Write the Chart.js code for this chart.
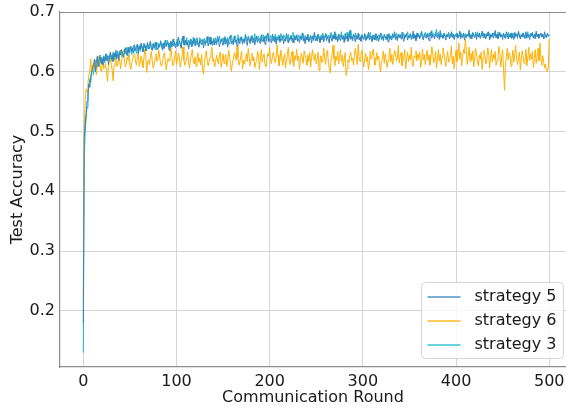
<!DOCTYPE html>
<html>
<head>
<meta charset="utf-8">
<script src="https://cdn.jsdelivr.net/npm/chart.js@4/dist/chart.umd.min.js"></script>
<style>
html,body{margin:0;padding:0;background:#fff;}
#wrap{width:566px;height:411px;position:relative;}
</style>
</head>
<body>
<div id="wrap"><canvas id="c" width="566" height="411"></canvas></div>
<script>
// ---- data ----
const rounds = Array.from({length: 501}, (_, i) => i);
const xTicks = [0, 100, 200, 300, 400, 500];
const yTicks = [0.2, 0.3, 0.4, 0.5, 0.6, 0.7];
const seriesNames = ['strategy 5', 'strategy 6', 'strategy 3'];

const strategy5 = [
0.180,0.490,0.512,0.530,0.551,0.566,0.580,0.574,0.592,0.601,
0.606,0.612,0.621,0.600,0.616,0.626,0.609,0.620,0.628,0.614,
0.622,0.611,0.625,0.618,0.630,0.619,0.627,0.612,0.624,0.633,
0.621,0.629,0.617,0.631,0.625,0.636,0.622,0.630,0.619,0.634,
0.628,0.637,0.631,0.624,0.632,0.640,0.635,0.627,0.641,0.632,
0.638,0.643,0.634,0.640,0.631,0.645,0.636,0.642,0.646,0.630,
0.644,0.637,0.648,0.642,0.633,0.641,0.646,0.635,0.643,0.649,
0.638,0.644,0.651,0.640,0.636,0.647,0.639,0.645,0.650,0.641,
0.637,0.646,0.642,0.651,0.644,0.636,0.648,0.639,0.653,0.643,
0.647,0.649,0.636,0.645,0.651,0.641,0.647,0.655,0.644,0.640,
0.650,0.642,0.658,0.652,0.646,0.639,0.652,0.660,0.648,0.644,
0.653,0.645,0.650,0.638,0.647,0.655,0.642,0.651,0.646,0.656,
0.643,0.650,0.657,0.646,0.641,0.652,0.648,0.645,0.654,0.640,
0.651,0.647,0.655,0.659,0.643,0.649,0.658,0.646,0.652,0.644,
0.656,0.645,0.651,0.648,0.659,0.653,0.642,0.647,0.655,0.649,
0.644,0.657,0.650,0.646,0.654,0.641,0.652,0.658,0.661,0.647,
0.651,0.645,0.660,0.649,0.653,0.643,0.656,0.650,0.647,0.658,
0.652,0.646,0.655,0.649,0.661,0.651,0.644,0.657,0.654,0.647,
0.659,0.652,0.648,0.656,0.645,0.653,0.660,0.649,0.655,0.651,
0.647,0.662,0.653,0.650,0.658,0.646,0.654,0.661,0.664,0.650,
0.656,0.652,0.648,0.663,0.655,0.650,0.658,0.646,0.657,0.653,
0.661,0.649,0.656,0.652,0.660,0.647,0.655,0.651,0.664,0.653,
0.648,0.657,0.654,0.661,0.650,0.656,0.648,0.659,0.653,0.662,
0.651,0.655,0.649,0.660,0.654,0.665,0.652,0.657,0.647,0.658,
0.653,0.662,0.650,0.656,0.659,0.648,0.660,0.654,0.666,0.652,
0.657,0.651,0.663,0.655,0.649,0.658,0.653,0.661,0.650,0.656,
0.664,0.652,0.659,0.654,0.648,0.662,0.656,0.651,0.660,0.655,
0.667,0.653,0.658,0.650,0.663,0.656,0.652,0.661,0.654,0.659,
0.649,0.664,0.655,0.660,0.651,0.657,0.669,0.654,0.659,0.652,
0.663,0.656,0.650,0.661,0.655,0.665,0.653,0.658,0.651,0.662,
0.657,0.654,0.663,0.652,0.659,0.656,0.666,0.653,0.660,0.655,
0.650,0.662,0.657,0.653,0.664,0.656,0.660,0.651,0.658,0.665,
0.654,0.659,0.652,0.663,0.657,0.655,0.661,0.650,0.664,0.656,
0.660,0.653,0.662,0.658,0.667,0.654,0.659,0.652,0.663,0.657,
0.661,0.655,0.666,0.656,0.651,0.662,0.658,0.664,0.653,0.660,
0.657,0.663,0.654,0.659,0.668,0.656,0.661,0.652,0.665,0.658,
0.662,0.655,0.660,0.666,0.657,0.653,0.663,0.659,0.656,0.664,
0.658,0.652,0.661,0.667,0.656,0.662,0.659,0.655,0.666,0.660,
0.657,0.663,0.654,0.669,0.658,0.661,0.656,0.664,0.659,0.653,
0.662,0.658,0.665,0.655,0.660,0.667,0.657,0.663,0.654,0.661,
0.659,0.664,0.656,0.660,0.668,0.655,0.662,0.658,0.665,0.653,
0.661,0.657,0.663,0.659,0.670,0.656,0.661,0.655,0.664,0.660,
0.657,0.666,0.654,0.662,0.658,0.665,0.656,0.661,0.668,0.657,
0.663,0.659,0.655,0.664,0.660,0.667,0.653,0.662,0.658,0.665,
0.656,0.661,0.669,0.657,0.663,0.655,0.660,0.666,0.658,0.662,
0.654,0.664,0.659,0.656,0.667,0.660,0.655,0.663,0.658,0.665,
0.657,0.661,0.654,0.666,0.659,0.663,0.656,0.668,0.660,0.655,
0.662,0.658,0.665,0.657,0.661,0.667,0.656,0.663,0.659,0.654,
0.664,0.660,0.666,0.657,0.662,0.655,0.668,0.659,0.663,0.656,
0.661,0.665,0.658,0.662,0.655,0.667,0.660,0.657,0.663,0.659,
0.661
];

const strategy6 = [
0.220,0.500,0.552,0.571,0.566,0.582,0.594,0.601,0.621,0.598,
0.612,0.604,0.610,0.617,0.595,0.608,0.622,0.626,0.611,0.601,
0.613,0.620,0.605,0.609,0.614,0.598,0.584,0.607,0.619,0.623,
0.612,0.603,0.585,0.611,0.618,0.624,0.609,0.613,0.626,0.620,
0.605,0.617,0.631,0.636,0.622,0.608,0.612,0.625,0.619,0.628,
0.610,0.604,0.615,0.621,0.627,0.630,0.618,0.611,0.624,0.633,
0.609,0.614,0.626,0.619,0.607,0.622,0.638,0.629,0.599,0.616,
0.620,0.612,0.625,0.634,0.618,0.606,0.611,0.623,0.630,0.617,
0.621,0.636,0.624,0.613,0.609,0.615,0.627,0.632,0.619,0.603,
0.615,0.622,0.618,0.629,0.640,0.626,0.610,0.614,0.623,0.635,
0.612,0.620,0.631,0.625,0.608,0.617,0.627,0.642,0.619,0.611,
0.616,0.624,0.633,0.615,0.606,0.621,0.628,0.637,0.618,0.613,
0.625,0.609,0.620,0.632,0.616,0.623,0.611,0.629,0.604,0.596,
0.614,0.627,0.635,0.619,0.610,0.618,0.624,0.631,0.641,0.617,
0.622,0.608,0.616,0.628,0.620,0.613,0.626,0.633,0.607,0.619,
0.630,0.614,0.623,0.629,0.609,0.618,0.636,0.626,0.612,0.601,
0.615,0.621,0.632,0.628,0.619,0.643,0.624,0.611,0.616,0.627,
0.634,0.605,0.620,0.613,0.622,0.630,0.617,0.639,0.626,0.610,
0.621,0.631,0.618,0.625,0.607,0.614,0.619,0.634,0.628,0.603,
0.622,0.637,0.616,0.624,0.630,0.612,0.609,0.620,0.631,0.626,
0.640,0.618,0.613,0.627,0.633,0.621,0.615,0.624,0.645,0.628,
0.610,0.619,0.636,0.625,0.611,0.622,0.630,0.606,0.617,0.629,
0.641,0.620,0.612,0.625,0.634,0.616,0.609,0.627,0.621,0.638,
0.618,0.626,0.604,0.619,0.631,0.623,0.614,0.635,0.628,0.620,
0.611,0.628,0.617,0.632,0.608,0.624,0.637,0.626,0.619,0.630,
0.613,0.622,0.633,0.602,0.618,0.627,0.615,0.620,0.640,0.624,
0.612,0.631,0.636,0.616,0.605,0.598,0.621,0.629,0.644,0.622,
0.610,0.626,0.619,0.634,0.613,0.625,0.637,0.617,0.628,0.609,
0.621,0.632,0.594,0.605,0.620,0.615,0.627,0.633,0.618,0.623,
0.611,0.630,0.639,0.626,0.612,0.646,0.624,0.617,0.629,0.636,
0.620,0.608,0.622,0.631,0.616,0.625,0.603,0.613,0.634,0.621,
0.628,0.638,0.624,0.611,0.617,0.632,0.620,0.626,0.609,0.600,
0.616,0.623,0.635,0.614,0.630,0.621,0.607,0.618,0.627,0.639,
0.616,0.629,0.612,0.624,0.636,0.631,0.618,0.622,0.644,0.615,
0.626,0.632,0.610,0.619,0.625,0.637,0.605,0.621,0.633,0.617,
0.628,0.620,0.641,0.613,0.609,0.627,0.624,0.635,0.618,0.630,
0.622,0.633,0.607,0.616,0.638,0.620,0.629,0.612,0.625,0.636,
0.619,0.628,0.611,0.623,0.642,0.630,0.615,0.620,0.634,0.606,
0.621,0.637,0.618,0.630,0.612,0.625,0.640,0.631,0.619,0.609,
0.623,0.634,0.616,0.620,0.627,0.643,0.613,0.626,0.605,0.622,
0.636,0.617,0.629,0.648,0.621,0.633,0.610,0.624,0.638,0.630,
0.655,0.637,0.612,0.626,0.641,0.617,0.631,0.620,0.635,0.608,
0.623,0.639,0.631,0.615,0.610,0.628,0.621,0.633,0.604,0.622,
0.636,0.627,0.613,0.618,0.640,0.630,0.606,0.624,0.637,0.616,
0.629,0.621,0.634,0.611,0.619,0.626,0.642,0.631,0.608,0.623,
0.637,0.604,0.569,0.611,0.625,0.639,0.620,0.632,0.627,0.609,
0.622,0.636,0.616,0.629,0.644,0.621,0.612,0.624,0.633,0.603,
0.620,0.635,0.627,0.614,0.617,0.638,0.610,0.623,0.641,0.619,
0.630,0.621,0.634,0.607,0.622,0.637,0.614,0.626,0.639,0.618,
0.648,0.624,0.611,0.627,0.617,0.606,0.613,0.603,0.600,0.607,
0.655
];

const strategy3 = [
0.130,0.455,0.498,0.521,0.540,0.558,0.577,0.588,0.583,0.599,
0.603,0.595,0.611,0.619,0.605,0.614,0.622,0.608,0.617,0.624,
0.613,0.620,0.627,0.615,0.623,0.630,0.618,0.626,0.621,0.629,
0.624,0.617,0.633,0.626,0.620,0.630,0.627,0.635,0.623,0.631,
0.636,0.625,0.633,0.628,0.638,0.630,0.641,0.634,0.626,0.639,
0.633,0.642,0.629,0.638,0.644,0.635,0.639,0.631,0.646,0.637,
0.641,0.634,0.645,0.639,0.636,0.648,0.640,0.643,0.635,0.646,
0.642,0.638,0.650,0.640,0.636,0.647,0.643,0.649,0.637,0.645,
0.648,0.640,0.644,0.652,0.641,0.647,0.639,0.650,0.645,0.642,
0.653,0.644,0.648,0.640,0.651,0.646,0.654,0.643,0.649,0.645,
0.647,0.655,0.643,0.651,0.648,0.641,0.656,0.650,0.645,0.652,
0.648,0.657,0.644,0.653,0.649,0.646,0.654,0.642,0.658,0.650,
0.655,0.646,0.652,0.649,0.643,0.657,0.651,0.654,0.647,0.653,
0.656,0.644,0.652,0.648,0.659,0.650,0.646,0.655,0.651,0.648,
0.653,0.649,0.657,0.645,0.654,0.651,0.660,0.648,0.652,0.656,
0.650,0.647,0.659,0.653,0.649,0.657,0.651,0.646,0.655,0.661,
0.652,0.648,0.656,0.660,0.650,0.654,0.662,0.649,0.656,0.653,
0.659,0.651,0.655,0.648,0.663,0.657,0.652,0.660,0.656,0.650,
0.654,0.661,0.657,0.652,0.664,0.650,0.658,0.655,0.660,0.653,
0.657,0.651,0.659,0.662,0.654,0.660,0.656,0.652,0.665,0.658,
0.655,0.661,0.657,0.652,0.660,0.654,0.663,0.650,0.659,0.656,
0.660,0.653,0.664,0.657,0.655,0.662,0.658,0.652,0.661,0.656,
0.663,0.651,0.658,0.660,0.654,0.666,0.657,0.661,0.655,0.659,
0.652,0.662,0.656,0.660,0.654,0.659,0.664,0.651,0.661,0.657,
0.655,0.663,0.658,0.653,0.661,0.656,0.660,0.652,0.664,0.658,
0.660,0.654,0.662,0.659,0.653,0.661,0.657,0.665,0.655,0.660,
0.658,0.663,0.656,0.661,0.654,0.660,0.666,0.657,0.662,0.655,
0.660,0.664,0.656,0.659,0.653,0.662,0.658,0.667,0.655,0.661,
0.657,0.652,0.661,0.666,0.658,0.663,0.656,0.670,0.660,0.655,
0.662,0.658,0.665,0.654,0.660,0.657,0.663,0.659,0.655,0.661,
0.658,0.656,0.664,0.660,0.653,0.662,0.657,0.659,0.666,0.655,
0.660,0.654,0.661,0.657,0.663,0.652,0.659,0.662,0.656,0.660,
0.664,0.657,0.655,0.661,0.659,0.653,0.663,0.658,0.662,0.654,
0.660,0.657,0.664,0.656,0.662,0.659,0.665,0.655,0.661,0.658,
0.663,0.657,0.661,0.666,0.659,0.655,0.662,0.660,0.667,0.657,
0.660,0.664,0.658,0.661,0.655,0.663,0.659,0.662,0.656,0.665,
0.661,0.658,0.663,0.668,0.660,0.657,0.662,0.666,0.659,0.663,
0.658,0.665,0.660,0.662,0.669,0.661,0.664,0.658,0.663,0.671,
0.660,0.666,0.662,0.657,0.664,0.661,0.659,0.665,0.662,0.658,
0.663,0.660,0.666,0.657,0.662,0.659,0.664,0.661,0.656,0.663,
0.660,0.665,0.658,0.662,0.659,0.666,0.661,0.657,0.663,0.660,
0.664,0.658,0.662,0.660,0.665,0.657,0.663,0.659,0.666,0.661,
0.658,0.663,0.660,0.667,0.659,0.664,0.656,0.662,0.660,0.665,
0.661,0.657,0.663,0.659,0.666,0.660,0.664,0.656,0.662,0.659,
0.665,0.660,0.663,0.657,0.661,0.667,0.659,0.664,0.658,0.662,
0.660,0.665,0.657,0.663,0.659,0.661,0.666,0.658,0.662,0.656,
0.663,0.660,0.665,0.657,0.661,0.664,0.659,0.666,0.660,0.657,
0.662,0.659,0.665,0.661,0.656,0.663,0.660,0.667,0.658,0.662,
0.659,0.664,0.661,0.656,0.663,0.660,0.665,0.658,0.662,0.657,
0.661,0.664,0.658,0.663,0.660,0.656,0.662,0.659,0.665,0.661,
0.662
];

const seriesValues = [strategy5, strategy6, strategy3];
const seriesColors = ['#3283bf', '#ffb000', '#16bac8'];

// ---- chart ----
const FONT = "'DejaVu Sans', sans-serif";
const spineColor = '#8c8c8c';
const gridColor = '#d4d4d4';

const framePlugin = {
  id: 'frame',
  afterDatasetsDraw(chart) {
    const {ctx, chartArea: a} = chart;
    ctx.save();
    ctx.strokeStyle = spineColor;
    ctx.lineWidth = 1.2;
    ctx.beginPath();
    ctx.moveTo(a.left, a.top + 0.5);
    ctx.lineTo(a.right, a.top + 0.5);
    ctx.stroke();
    ctx.restore();
  }
};

const legendPlugin = {
  id: 'innerLegend',
  afterDraw(chart) {
    const {ctx, chartArea: a} = chart;
    const w = 142, h = 76, r = 4;
    const x0 = a.right - w - 2.5, y0 = a.bottom - h - 8.5;
    ctx.save();
    ctx.beginPath();
    ctx.moveTo(x0 + r, y0);
    ctx.lineTo(x0 + w - r, y0);
    ctx.arcTo(x0 + w, y0, x0 + w, y0 + r, r);
    ctx.lineTo(x0 + w, y0 + h - r);
    ctx.arcTo(x0 + w, y0 + h, x0 + w - r, y0 + h, r);
    ctx.lineTo(x0 + r, y0 + h);
    ctx.arcTo(x0, y0 + h, x0, y0 + h - r, r);
    ctx.lineTo(x0, y0 + r);
    ctx.arcTo(x0, y0, x0 + r, y0, r);
    ctx.closePath();
    ctx.fillStyle = 'rgba(255,255,255,0.8)';
    ctx.fill();
    ctx.strokeStyle = '#d6d6d6';
    ctx.lineWidth = 1;
    ctx.stroke();
    ctx.font = '16px ' + FONT;
    ctx.textBaseline = 'middle';
    ctx.fillStyle = '#1a1a1a';
    chart.data.datasets.forEach((ds, i) => {
      const cy = y0 + 14.5 + i * 24;
      ctx.strokeStyle = ds.borderColor;
      ctx.globalAlpha = 0.85;
      ctx.lineWidth = 1.5;
      ctx.beginPath();
      ctx.moveTo(x0 + 6, cy);
      ctx.lineTo(x0 + 39, cy);
      ctx.stroke();
      ctx.globalAlpha = 1;
      ctx.fillText(ds.label, x0 + 53, cy);
    });
    ctx.restore();
  }
};

new Chart(document.getElementById('c'), {
  type: 'line',
  data: {
    labels: rounds,
    datasets: seriesNames.map((name, i) => ({
      label: name,
      data: seriesValues[i],
      borderColor: seriesColors[i],
      backgroundColor: seriesColors[i],
      borderWidth: 1.0,
      pointRadius: 0,
      tension: 0,
      fill: false
    }))
  },
  options: {
    responsive: false,
    animation: false,
    layout: {padding: {top: 12, right: 0, left: 0, bottom: 0}},
    plugins: {legend: {display: false}, tooltip: {enabled: false}},
    scales: {
      x: {
        type: 'linear',
        min: -25,
        max: 518,
        afterBuildTicks(s) { s.ticks = xTicks.map(v => ({value: v})); },
        afterFit(s) { s.height = 44; s.paddingLeft = 0; s.paddingRight = 0; },
        grid: {color: gridColor, lineWidth: 1, drawTicks: false},
        border: {color: spineColor, width: 1.2},
        ticks: {
          font: {family: FONT, size: 16},
          color: '#1a1a1a',
          padding: 5,
          maxRotation: 0,
          autoSkip: false,
          callback: v => String(v)
        },
        title: {
          display: true,
          text: 'Communication Round',
          font: {family: FONT, size: 16, lineHeight: 1},
          color: '#1a1a1a',
          padding: {top: 0, bottom: 5}
        }
      },
      y: {
        type: 'linear',
        min: 0.106,
        max: 0.7,
        afterBuildTicks(s) { s.ticks = yTicks.map(v => ({value: v})); },
        afterFit(s) { s.width = 60; s.paddingTop = 0; s.paddingBottom = 0; },
        grid: {color: gridColor, lineWidth: 1, drawTicks: false},
        border: {color: spineColor, width: 1.2},
        ticks: {
          font: {family: FONT, size: 16},
          color: '#1a1a1a',
          padding: 5,
          autoSkip: false,
          callback: v => v.toFixed(1)
        },
        title: {
          display: true,
          text: 'Test Accuracy',
          font: {family: FONT, size: 16, lineHeight: 1},
          color: '#1a1a1a',
          padding: {top: 10, bottom: 0}
        }
      }
    }
  },
  plugins: [framePlugin, legendPlugin]
});
</script>
</body>
</html>
